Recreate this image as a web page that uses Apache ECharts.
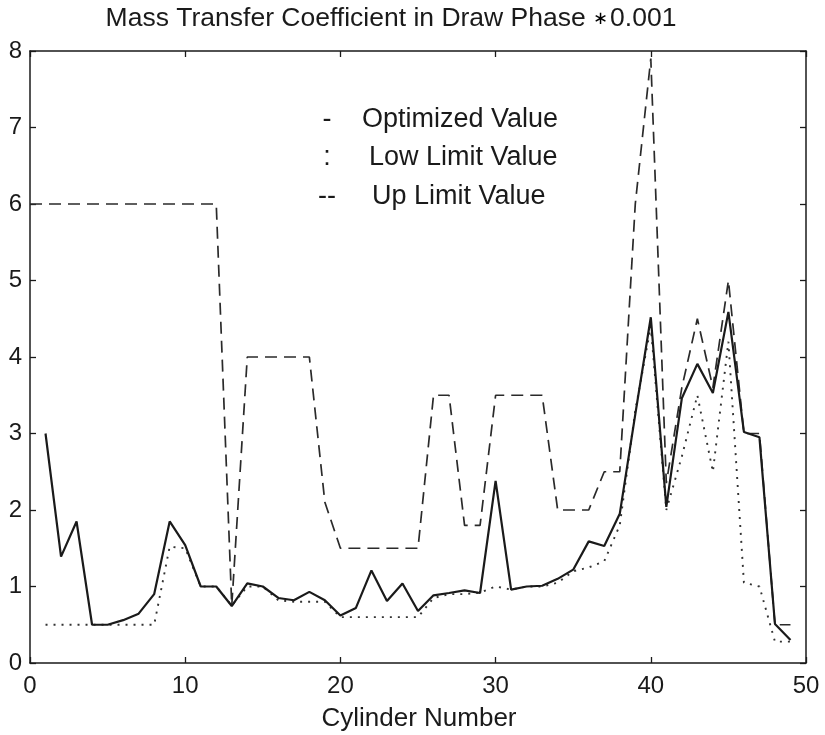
<!DOCTYPE html>
<html>
<head>
<meta charset="utf-8">
<script src="https://cdn.jsdelivr.net/npm/echarts@6/dist/echarts.min.js"></script>
<style>
  html, body { margin: 0; padding: 0; background: #fff; }
  #chart { width: 825px; height: 735px; }
</style>
</head>
<body>
<div id="chart"></div>
<script>
// Cylinder index along the column
const cylinders = [0, 1, 2, 3, 4, 5, 6, 7, 8, 9, 10, 11, 12, 13, 14, 15, 16, 17, 18, 19,
  20, 21, 22, 23, 24, 25, 26, 27, 28, 29, 30, 31, 32, 33, 34, 35, 36, 37, 38, 39,
  40, 41, 42, 43, 44, 45, 46, 47, 48, 49];

// Mass transfer coefficient (x 0.001), optimized result
const optimized = [null, 3.0, 1.39, 1.85, 0.5, 0.5, 0.56, 0.645, 0.9, 1.85, 1.54,
  1.0, 1.0, 0.745, 1.04, 1.0, 0.85, 0.82, 0.93, 0.82, 0.62,
  0.72, 1.21, 0.81, 1.04, 0.68, 0.885, 0.915, 0.95, 0.915, 2.38,
  0.96, 1.0, 1.01, 1.10, 1.22, 1.59, 1.53, 1.95, 3.25, 4.52,
  2.04, 3.46, 3.91, 3.53, 4.59, 3.02, 2.95, 0.51, 0.30];

// Lower bound
const lowLimit = [null, 0.5, 0.5, 0.5, 0.5, 0.5, 0.5, 0.5, 0.5, 1.52, 1.5,
  1.0, 1.0, 0.75, 1.0, 1.0, 0.82, 0.8, 0.8, 0.8, 0.6,
  0.6, 0.6, 0.6, 0.6, 0.6, 0.85, 0.9, 0.9, 0.92, 1.0,
  0.96, 1.0, 1.0, 1.05, 1.2, 1.25, 1.33, 1.8, 3.3, 4.4,
  2.0, 2.7, 3.5, 2.5, 4.2, 1.05, 1.0, 0.28, 0.28];

// Upper bound
const upLimit = [6.0, 6.0, 6.0, 6.0, 6.0, 6.0, 6.0, 6.0, 6.0, 6.0, 6.0,
  6.0, 6.0, 0.75, 4.0, 4.0, 4.0, 4.0, 4.0, 2.1, 1.5,
  1.5, 1.5, 1.5, 1.5, 1.5, 3.5, 3.5, 1.8, 1.8, 3.5,
  3.5, 3.5, 3.5, 2.0, 2.0, 2.0, 2.5, 2.5, 6.0, 7.9,
  2.35, 3.6, 4.5, 3.6, 5.0, 3.0, 3.0, 0.5, 0.5];

const xTicks = [0, 10, 20, 30, 40, 50];
const yTicks = [0, 1, 2, 3, 4, 5, 6, 7, 8];

const titleMain = 'Mass Transfer Coefficient in Draw Phase ';
const titleScale = '0.001';
const xName = 'Cylinder Number';
const legendRows = [
  { mark: '-', label: 'Optimized Value' },
  { mark: ':', label: 'Low Limit Value' },
  { mark: '--', label: 'Up Limit Value' }
];

const FONT = '"Liberation Sans", Arial, Helvetica, sans-serif';
const INK = '#1a1a1a';

function pairs(ys) {
  return cylinders.map((x, i) => [x, ys[i]]);
}

const chart = echarts.init(document.getElementById('chart'), null, { renderer: 'canvas' });

const axisCommon = {
  type: 'value',
  splitLine: { show: false },
  axisLine: { show: true, onZero: false, lineStyle: { color: INK, width: 1.5 } },
  axisTick: { show: true, inside: true, length: 6, lineStyle: { color: INK, width: 1.3 } }
};

const legendMarkX = [327, 327, 327];
const legendTextX = [362, 369, 372];
const legendY = [120, 158, 197];

const graphics = [
  {
    type: 'text', x: 391, y: 19,
    style: {
      text: '{m|' + titleMain + '}{s|\u2217}{m|' + titleScale + '}',
      align: 'center', verticalAlign: 'middle',
      rich: {
        m: { font: '26.5px ' + FONT, fill: INK, fontSize: 26.5, fontFamily: FONT, color: INK },
        s: { fontSize: 18, fontFamily: FONT, color: INK, padding: [0, 2, 0, 0] }
      }
    }
  },
  {
    type: 'text', x: 419, y: 719,
    style: { text: xName, font: '26px ' + FONT, fill: INK, align: 'center', verticalAlign: 'middle' }
  }
];
legendRows.forEach((row, i) => {
  graphics.push({
    type: 'text', x: legendMarkX[i], y: legendY[i],
    style: { text: row.mark, font: '27px ' + FONT, fill: INK, align: 'center', verticalAlign: 'middle' }
  });
  graphics.push({
    type: 'text', x: legendTextX[i], y: legendY[i],
    style: { text: row.label, font: '27px ' + FONT, fill: INK, align: 'left', verticalAlign: 'middle' }
  });
});

chart.setOption({
  animation: false,
  backgroundColor: '#fff',
  grid: { left: 30, right: 19, top: 51, bottom: 72, containLabel: false },
  xAxis: [
    Object.assign({}, axisCommon, {
      position: 'bottom', min: xTicks[0], max: xTicks[xTicks.length - 1], interval: 10,
      axisLabel: { show: true, margin: 11, fontSize: 24, fontFamily: FONT, color: INK }
    }),
    Object.assign({}, axisCommon, {
      position: 'top', min: xTicks[0], max: xTicks[xTicks.length - 1], interval: 10,
      axisLabel: { show: false }
    })
  ],
  yAxis: [
    Object.assign({}, axisCommon, {
      position: 'left', min: yTicks[0], max: yTicks[yTicks.length - 1], interval: 1,
      axisLabel: { show: true, margin: 8, fontSize: 24, fontFamily: FONT, color: INK }
    }),
    Object.assign({}, axisCommon, {
      position: 'right', min: yTicks[0], max: yTicks[yTicks.length - 1], interval: 1,
      axisLabel: { show: false }
    })
  ],
  graphic: graphics,
  series: [
    {
      name: 'Up Limit Value', type: 'line', xAxisIndex: 0, yAxisIndex: 0,
      data: pairs(upLimit), symbol: 'none', connectNulls: false,
      lineStyle: { color: '#2a2a2a', width: 1.7, type: [12, 7] }
    },
    {
      name: 'Low Limit Value', type: 'line', xAxisIndex: 0, yAxisIndex: 0,
      data: pairs(lowLimit), symbol: 'none', connectNulls: false,
      lineStyle: { color: '#333', width: 1.9, type: [2, 6] }
    },
    {
      name: 'Optimized Value', type: 'line', xAxisIndex: 0, yAxisIndex: 0,
      data: pairs(optimized), symbol: 'none', connectNulls: false,
      lineStyle: { color: INK, width: 2.2, type: 'solid' }
    }
  ]
});
</script>
</body>
</html>
